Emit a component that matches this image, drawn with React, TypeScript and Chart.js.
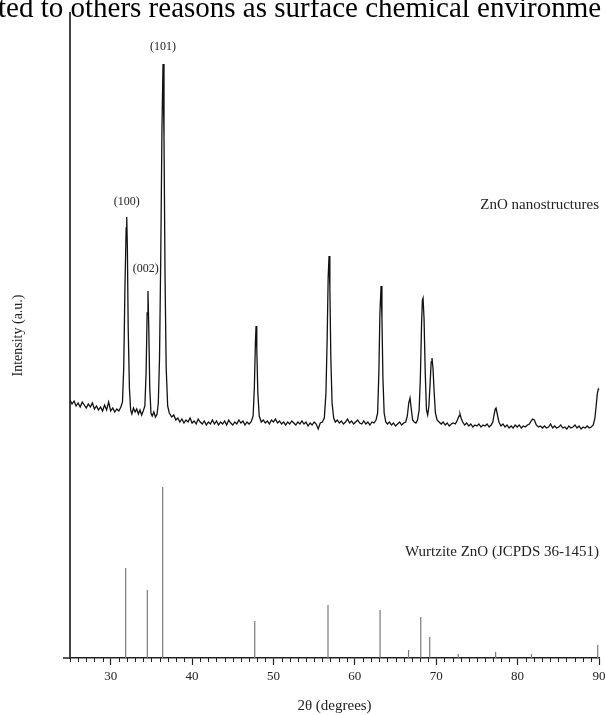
import React, { useEffect, useRef } from "react";
import { Chart, registerables } from "chart.js";

Chart.register(...registerables);

// Measured XRD scan: [2θ (deg), intensity (a.u.)]
const xrdPattern: [number, number][] = [
  [25.0, 258], [25.25, 254], [25.5, 257], [25.75, 252], [26.0, 255], [26.25, 251], [26.5, 256], [26.75, 253],
  [27.0, 250], [27.25, 254], [27.5, 251], [27.75, 255], [28.0, 249], [28.25, 252], [28.5, 248], [28.75, 251],
  [29.0, 247], [29.25, 253], [29.5, 248], [29.75, 256], [30.0, 247], [30.25, 250], [30.5, 246], [30.75, 249],
  [31.0, 247], [31.25, 251], [31.45, 256], [31.6, 290], [31.75, 370], [31.9, 430], [31.97, 441], [32.05, 410],
  [32.15, 330], [32.3, 270], [32.45, 248], [32.6, 244], [32.8, 250], [33.0, 246], [33.2, 249], [33.4, 244],
  [33.6, 248], [33.8, 243], [34.0, 247], [34.2, 252], [34.35, 285], [34.48, 345], [34.58, 367], [34.68, 330],
  [34.8, 270], [34.95, 245], [35.1, 242], [35.3, 246], [35.5, 241], [35.7, 244], [35.85, 255], [36.0, 300],
  [36.15, 400], [36.3, 530], [36.43, 594], [36.55, 520], [36.68, 380], [36.82, 290], [37.0, 252], [37.2, 245],
  [37.5, 241], [37.75, 243], [38.0, 238], [38.25, 240], [38.5, 236], [38.75, 239], [39.0, 235], [39.25, 238],
  [39.5, 236], [39.75, 240], [40.0, 235], [40.25, 237], [40.5, 234], [40.75, 239], [41.0, 236], [41.25, 234],
  [41.5, 237], [41.75, 233], [42.0, 236], [42.25, 234], [42.5, 238], [42.75, 234], [43.0, 237], [43.25, 233],
  [43.5, 236], [43.75, 234], [44.0, 237], [44.25, 233], [44.5, 238], [44.75, 235], [45.0, 233], [45.25, 236],
  [45.5, 234], [45.75, 238], [46.0, 235], [46.25, 237], [46.5, 233], [46.75, 236], [47.0, 234], [47.25, 236],
  [47.5, 242], [47.65, 270], [47.78, 315], [47.86, 332], [47.95, 310], [48.08, 265], [48.25, 242], [48.5, 236],
  [48.75, 238], [49.0, 235], [49.25, 237], [49.5, 234], [49.75, 238], [50.0, 236], [50.25, 239], [50.5, 235],
  [50.75, 237], [51.0, 234], [51.25, 236], [51.5, 233], [51.75, 236], [52.0, 234], [52.25, 237], [52.5, 235],
  [52.75, 233], [53.0, 236], [53.25, 234], [53.5, 237], [53.75, 234], [54.0, 236], [54.25, 232], [54.5, 235],
  [54.75, 233], [55.0, 236], [55.25, 234], [55.5, 229], [55.75, 235], [56.0, 236], [56.25, 240], [56.45, 265],
  [56.6, 320], [56.72, 380], [56.83, 402], [56.93, 370], [57.05, 300], [57.2, 255], [57.4, 240], [57.6, 236],
  [57.85, 238], [58.1, 235], [58.35, 237], [58.6, 234], [58.85, 236], [59.1, 239], [59.35, 235], [59.6, 237],
  [59.85, 234], [60.1, 236], [60.35, 238], [60.6, 235], [60.85, 234], [61.1, 237], [61.35, 234], [61.6, 236],
  [61.85, 233], [62.1, 236], [62.35, 235], [62.6, 238], [62.8, 245], [62.95, 285], [63.08, 345], [63.22, 372],
  [63.33, 340], [63.45, 280], [63.6, 245], [63.8, 236], [64.0, 234], [64.25, 236], [64.5, 233], [64.75, 235],
  [65.0, 232], [65.25, 234], [65.5, 236], [65.75, 233], [66.0, 235], [66.25, 236], [66.45, 242], [66.62, 255],
  [66.78, 260], [66.92, 250], [67.1, 238], [67.3, 236], [67.5, 235], [67.7, 238], [67.9, 248], [68.05, 280],
  [68.2, 335], [68.3, 358], [68.38, 360], [68.5, 340], [68.65, 285], [68.8, 248], [68.95, 243], [69.1, 252],
  [69.25, 275], [69.38, 296], [69.48, 300], [69.6, 290], [69.75, 265], [69.9, 245], [70.1, 238], [70.35, 236],
  [70.6, 234], [70.85, 236], [71.1, 233], [71.35, 235], [71.6, 232], [71.85, 234], [72.1, 235], [72.35, 234],
  [72.6, 238], [72.8, 242], [72.92, 244], [73.05, 240], [73.25, 236], [73.5, 233], [73.75, 235], [74.0, 232],
  [74.25, 234], [74.5, 231], [74.75, 233], [75.0, 232], [75.25, 234], [75.5, 231], [75.75, 233], [76.0, 232],
  [76.25, 234], [76.5, 231], [76.75, 233], [76.95, 236], [77.1, 243], [77.25, 249], [77.35, 250], [77.5, 244],
  [77.7, 236], [77.95, 232], [78.2, 234], [78.45, 231], [78.7, 233], [78.95, 230], [79.2, 232], [79.45, 230],
  [79.7, 233], [79.95, 231], [80.2, 233], [80.45, 230], [80.7, 232], [80.95, 231], [81.2, 233], [81.45, 234],
  [81.65, 237], [81.85, 239], [82.05, 238], [82.3, 233], [82.55, 231], [82.8, 232], [83.05, 230], [83.3, 232],
  [83.55, 230], [83.8, 231], [84.05, 234], [84.3, 230], [84.55, 232], [84.8, 230], [85.05, 231], [85.3, 233],
  [85.55, 230], [85.8, 231], [86.05, 229], [86.3, 232], [86.55, 230], [86.8, 231], [87.05, 233], [87.3, 230],
  [87.55, 232], [87.8, 229], [88.05, 231], [88.3, 230], [88.55, 232], [88.8, 230], [89.05, 231], [89.3, 233],
  [89.5, 240], [89.65, 252], [89.8, 265], [89.92, 269], [90.0, 268], [90.1, 258], [90.25, 240], [90.4, 232],
];

// Reference pattern (JCPDS 36-1451) stick positions and heights
const refTheta = [31.84, 34.5, 36.39, 47.7, 56.7, 63.1, 66.6, 68.1, 69.2, 72.7, 77.3, 81.7, 89.84];
const refIntensity = [90, 68, 171, 37, 53, 48, 8, 41, 21, 4, 6, 4, 13];

// Peak labels (Miller indices)
const peakLabels = ["(100)", "(002)", "(101)"];
const peakLabelTheta = [31.97, 34.3, 36.43];
const peakLabelIntensity = [456, 389, 611];

const xMin = 25;
const xMax = 90;
const yMax = 645;
const FONT = '"Liberation Serif", "Times New Roman", serif';

export default function App() {
  const canvasRef = useRef<HTMLCanvasElement | null>(null);

  useEffect(() => {
    const canvas = canvasRef.current;
    if (!canvas) return;

    const refData: { x: number; y: number | null }[] = [];
    refTheta.forEach((t, i) => {
      refData.push({ x: t, y: 0 });
      refData.push({ x: t, y: refIntensity[i] });
      refData.push({ x: t, y: null });
    });

    const annotate = {
      id: "annotate",
      afterDraw(chart: any) {
        const ctx = chart.ctx;
        const xs = chart.scales.x;
        const ys = chart.scales.y;
        const area = chart.chartArea;
        ctx.save();
        // cropped page text above the figure
        ctx.fillStyle = "#000";
        ctx.font = `29px ${FONT}`;
        ctx.textAlign = "left";
        ctx.textBaseline = "alphabetic";
        ctx.fillText("ted to others reasons as surface chemical environme", -2, 17);

        // small overhang of the x axis line to the left of the y axis
        ctx.strokeStyle = "#222";
        ctx.lineWidth = 1.5;
        ctx.beginPath();
        ctx.moveTo(area.left - 7, area.bottom);
        ctx.lineTo(area.left, area.bottom);
        ctx.stroke();

        // minor ticks
        ctx.lineWidth = 1;
        const yb = area.bottom;
        for (let d = xMin; d <= xMax; d++) {
          if (d % 10 === 0) continue;
          const px = Math.round(xs.getPixelForValue(d)) + 0.5;
          ctx.beginPath();
          ctx.moveTo(px, yb);
          ctx.lineTo(px, yb + 4);
          ctx.stroke();
        }

        // peak labels
        ctx.fillStyle = "#222";
        ctx.font = `12px ${FONT}`;
        ctx.textAlign = "center";
        ctx.textBaseline = "middle";
        peakLabels.forEach((lab, i) => {
          ctx.fillText(lab, xs.getPixelForValue(peakLabelTheta[i]), ys.getPixelForValue(peakLabelIntensity[i]));
        });

        // series labels
        ctx.font = `15px ${FONT}`;
        ctx.textAlign = "right";
        ctx.fillText("ZnO nanostructures", xs.getPixelForValue(xMax), ys.getPixelForValue(453));
        ctx.fillText("Wurtzite ZnO (JCPDS 36-1451)", xs.getPixelForValue(xMax), ys.getPixelForValue(106));
        ctx.restore();
      },
    };

    const chart = new Chart(canvas, {
      type: "line",
      data: {
        datasets: [
          {
            data: xrdPattern.map(([x, y]) => ({ x, y })),
            borderColor: "#111",
            borderWidth: 1.3,
            pointRadius: 0,
            tension: 0,
            clip: { left: 0, top: 0, right: 8, bottom: 0 } as any,
          },
          {
            data: refData as any,
            borderColor: "#7a7a7a",
            borderWidth: 1.2,
            pointRadius: 0,
            spanGaps: false,
            tension: 0,
          },
        ],
      },
      options: {
        animation: false,
        responsive: false,
        devicePixelRatio: 1,
        layout: { padding: { top: 13, right: 7, left: 0, bottom: 0 } },
        plugins: { legend: { display: false }, tooltip: { enabled: false } },
        scales: {
          x: {
            type: "linear",
            min: xMin,
            max: xMax,
            offset: false,
            ticks: {
              stepSize: 10,
              includeBounds: false,
              maxRotation: 0,
              autoSkip: false,
              padding: 4,
              color: "#222",
              font: { family: FONT, size: 13 },
            },
            grid: {
              display: true,
              drawOnChartArea: false,
              drawTicks: true,
              tickLength: 7,
              tickColor: "#222",
              tickWidth: 1.2,
            },
            border: { display: true, color: "#222", width: 1.5 },
            title: {
              display: true,
              text: "2θ (degrees)",
              color: "#222",
              font: { family: FONT, size: 15 },
              padding: { top: 0, bottom: 0 },
            },
            afterFit: (s: any) => {
              s.height = 57;
              s.paddingLeft = 0;
              s.paddingRight = 0;
            },
          },
          y: {
            type: "linear",
            min: 0,
            max: yMax,
            ticks: { display: false },
            grid: { display: false, drawTicks: false },
            border: { display: true, color: "#444", width: 2 },
            title: {
              display: true,
              text: "Intensity (a.u.)",
              color: "#222",
              font: { family: FONT, size: 14 },
              padding: { top: 10, bottom: 0 },
            },
            afterFit: (s: any) => {
              s.width = 70;
            },
          },
        },
      },
      plugins: [annotate],
    });

    return () => chart.destroy();
  }, []);

  return (
    <div style={{ position: "absolute", left: 0, top: 0, width: 606, height: 715, background: "#fff" }}>
      <canvas ref={canvasRef} width={606} height={715} style={{ display: "block" }} />
    </div>
  );
}
